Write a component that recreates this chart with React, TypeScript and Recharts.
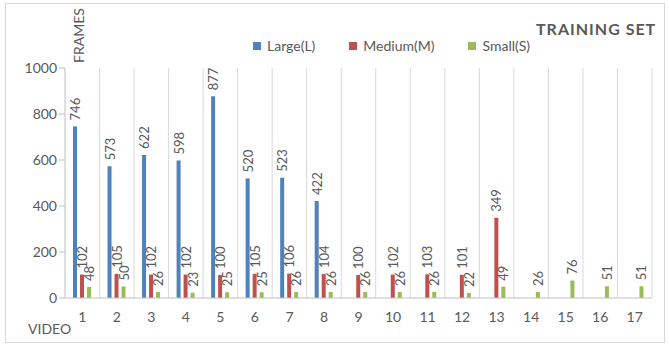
import { Bar, BarChart, CartesianGrid, LabelList, XAxis, YAxis } from "recharts";

const VIDEOS = ["1", "2", "3", "4", "5", "6", "7", "8", "9", "10", "11", "12", "13", "14", "15", "16", "17"];
const LARGE = [746, 573, 622, 598, 877, 520, 523, 422, null, null, null, null, null, null, null, null, null];
const MEDIUM = [102, 105, 102, 102, 100, 105, 106, 104, 100, 102, 103, 101, 349, null, null, null, null];
const SMALL = [48, 50, 26, 23, 25, 25, 26, 26, 26, 26, 26, 22, 49, 26, 76, 51, 51];
const Y_TICKS = [0, 200, 400, 600, 800, 1000];

const SERIES = [
  { key: "large", name: "Large(L)", color: "#4F81BD" },
  { key: "medium", name: "Medium(M)", color: "#C0504D" },
  { key: "small", name: "Small(S)", color: "#9BBB59" },
];

const data = VIDEOS.map((v, i) => ({
  video: v,
  large: LARGE[i],
  medium: MEDIUM[i],
  small: SMALL[i],
}));

const FONT = "Lato, 'Open Sans', sans-serif";
const INK = "#595959";

const RotatedLabel = (props: any) => {
  const { x, y, width, value } = props;
  if (value == null) return null;
  const cx = x + width / 2;
  const ty = y - 6;
  return (
    <text
      x={cx}
      y={ty}
      transform={`rotate(-90 ${cx} ${ty})`}
      textAnchor="start"
      dominantBaseline="central"
      fill={INK}
      fontSize={13}
      fontFamily={FONT}
    >
      {value}
    </text>
  );
};

export default function App() {
  return (
    <div
      style={{
        position: "absolute",
        left: 0,
        top: 0,
        width: 669,
        height: 346,
        background: "#fff",
        fontFamily: FONT,
      }}
    >
      <div
        style={{
          position: "absolute",
          left: 5,
          top: 3,
          width: 658,
          height: 338,
          border: "1px solid #d9d9d9",
        }}
      />
      <BarChart
        width={669}
        height={346}
        data={data}
        margin={{ top: 68, right: 17, bottom: 18, left: 25 }}
        barGap={3}
        barSize={4}
      >
        <CartesianGrid
          horizontal={false}
          stroke="#d9d9d9"
          verticalCoordinatesGenerator={({ offset }: any) =>
            VIDEOS.map((_, i) => offset.left + ((i + 1) * offset.width) / VIDEOS.length)
          }
        />
        <XAxis
          dataKey="video"
          height={30}
          axisLine={{ stroke: "#bfbfbf" }}
          tickLine={false}
          tick={{ fill: INK, fontSize: 14, fontFamily: FONT, dy: 6 }}
        />
        <YAxis
          width={40}
          domain={[0, 1000]}
          ticks={Y_TICKS}
          axisLine={{ stroke: "#bfbfbf" }}
          tickLine={{ stroke: "#bfbfbf" }}
          tickSize={6}
          tick={{ fill: INK, fontSize: 14, fontFamily: FONT }}
        />
        {SERIES.map((s) => (
          <Bar key={s.key} dataKey={s.key} name={s.name} fill={s.color} isAnimationActive={false}>
            <LabelList dataKey={s.key} content={RotatedLabel} />
          </Bar>
        ))}
      </BarChart>
      <div
        style={{
          position: "absolute",
          left: 536,
          top: 19,
          fontSize: 16,
          fontWeight: 700,
          letterSpacing: 1,
          color: INK,
          whiteSpace: "nowrap",
        }}
      >
        TRAINING SET
      </div>
      <div
        style={{
          position: "absolute",
          left: 253,
          top: 37,
          display: "flex",
          gap: 34,
          fontSize: 14,
          color: INK,
        }}
      >
        {SERIES.map((s) => (
          <div key={s.key} style={{ display: "flex", alignItems: "center" }}>
            <span
              style={{ width: 8, height: 8, background: s.color, marginRight: 6, display: "inline-block" }}
            />
            {s.name}
          </div>
        ))}
      </div>
      <div
        style={{
          position: "absolute",
          left: 70,
          top: 63,
          transform: "rotate(-90deg)",
          transformOrigin: "0 0",
          fontSize: 14,
          color: INK,
          whiteSpace: "nowrap",
        }}
      >
        FRAMES
      </div>
      <div
        style={{
          position: "absolute",
          left: 28,
          top: 320,
          fontSize: 14,
          color: INK,
        }}
      >
        VIDEO
      </div>
    </div>
  );
}
